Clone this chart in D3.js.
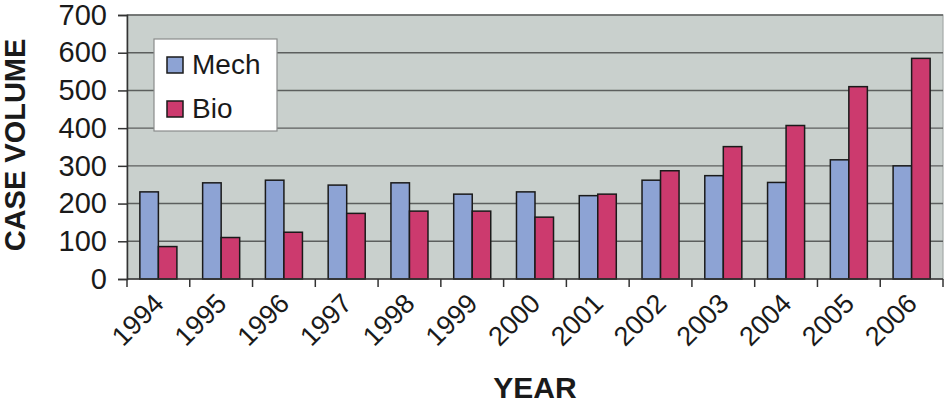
<!DOCTYPE html>
<html>
<head>
<meta charset="utf-8">
<script src="https://cdn.jsdelivr.net/npm/d3@7"></script>
<style>
  html, body { margin: 0; padding: 0; background: #fff; }
  svg { display: block; font-family: Arial, "Liberation Sans", sans-serif; }
</style>
</head>
<body>
<svg id="chart" width="946" height="407"></svg>
<script>
const years = ['1994', '1995', '1996', '1997', '1998', '1999', '2000', '2001', '2002', '2003', '2004', '2005', '2006'];
const mech = [231, 255, 262, 249, 255, 225, 231, 221, 262, 274, 256, 316, 300];
const bio = [86, 110, 124, 174, 180, 180, 164, 225, 287, 351, 407, 510, 585];
const seriesNames = ['Mech', 'Bio'];
const yTicks = [0, 100, 200, 300, 400, 500, 600, 700];

const COLORS = { Mech: '#8da3d4', Bio: '#cc3a6e' };
const M = { left: 127, right: 943, top: 15, bottom: 279 };

const svg = d3.select('#chart');

const x = d3.scaleBand().domain(years).range([M.left, M.right]).paddingInner(0).paddingOuter(0);
const bw = x.bandwidth();
const xs = d3.scaleBand().domain(seriesNames).range([bw * 0.205, bw * 0.795]).padding(0);
const y = d3.scaleLinear().domain([0, 700]).range([M.bottom, M.top]);

// plot background
svg.append('rect')
  .attr('x', M.left).attr('y', M.top)
  .attr('width', M.right - M.left).attr('height', M.bottom - M.top)
  .attr('fill', '#c9d0cd').attr('stroke', '#a5aaa8').attr('stroke-width', 1.2);

// gridlines
svg.append('g').selectAll('line').data(yTicks.filter(d => d > 0)).enter().append('line')
  .attr('x1', M.left).attr('x2', M.right)
  .attr('y1', d => y(d)).attr('y2', d => y(d))
  .attr('stroke', '#5c5f5e').attr('stroke-width', 1.4);

// bars
const rows = years.map((yr, i) => ({ year: yr, Mech: mech[i], Bio: bio[i] }));
const grp = svg.append('g').selectAll('g').data(rows).enter().append('g')
  .attr('transform', d => `translate(${x(d.year)},0)`);
grp.selectAll('rect').data(d => seriesNames.map(k => ({ key: k, value: d[k] }))).enter().append('rect')
  .attr('x', d => xs(d.key))
  .attr('width', xs.bandwidth())
  .attr('y', d => y(d.value))
  .attr('height', d => y(0) - y(d.value))
  .attr('fill', d => COLORS[d.key])
  .attr('stroke', '#1a1a1a').attr('stroke-width', 1.5);

// y axis
const yAxis = svg.append('g')
  .attr('transform', `translate(${M.left},0)`)
  .call(d3.axisLeft(y).tickValues(yTicks).tickSize(9).tickPadding(11).tickFormat(d3.format('d')));
yAxis.select('.domain').attr('stroke', '#333').attr('stroke-width', 1.5);
yAxis.selectAll('.tick line').attr('stroke', '#333').attr('stroke-width', 1.5);
yAxis.selectAll('.tick text')
  .attr('font-size', 29).attr('fill', '#1a1a1a').attr('font-family', 'Arial, "Liberation Sans", sans-serif');

// x axis: ticks at category boundaries
const xAxisG = svg.append('g');
xAxisG.append('line')
  .attr('x1', M.left).attr('x2', M.right).attr('y1', M.bottom).attr('y2', M.bottom)
  .attr('stroke', '#333').attr('stroke-width', 1.5);
const bounds = years.map(d => x(d)).concat([M.right]);
xAxisG.selectAll('line.tk').data(bounds).enter().append('line')
  .attr('class', 'tk')
  .attr('x1', d => d).attr('x2', d => d)
  .attr('y1', M.bottom).attr('y2', M.bottom + 8)
  .attr('stroke', '#333').attr('stroke-width', 1.5);
xAxisG.selectAll('text').data(years).enter().append('text')
  .attr('transform', d => `translate(${x(d) + bw / 2 + 7},${M.bottom + 26}) rotate(-45)`)
  .attr('text-anchor', 'end')
  .attr('font-size', 27).attr('fill', '#1a1a1a')
  .text(d => d);

// axis titles
svg.append('text')
  .attr('x', (M.left + M.right) / 2).attr('y', 398)
  .attr('text-anchor', 'middle').attr('font-size', 30).attr('font-weight', 'bold').attr('fill', '#1a1a1a')
  .text('YEAR');
svg.append('text')
  .attr('transform', 'translate(25,145) rotate(-90)')
  .attr('text-anchor', 'middle').attr('font-size', 29).attr('font-weight', 'bold').attr('fill', '#1a1a1a')
  .text('CASE VOLUME');

// legend
const lg = svg.append('g').attr('transform', 'translate(154,39)');
lg.append('rect').attr('width', 123).attr('height', 92)
  .attr('fill', '#fff').attr('stroke', '#8a8d8c').attr('stroke-width', 1.2);
const items = lg.selectAll('g').data(seriesNames).enter().append('g')
  .attr('transform', (d, i) => `translate(13,${18 + i * 44})`);
items.append('rect').attr('width', 16).attr('height', 16)
  .attr('fill', d => COLORS[d]).attr('stroke', '#1a1a1a').attr('stroke-width', 1.5);
items.append('text').attr('x', 25).attr('y', 17)
  .attr('font-size', 28).attr('fill', '#1a1a1a')
  .text(d => d);
</script>
</body>
</html>
